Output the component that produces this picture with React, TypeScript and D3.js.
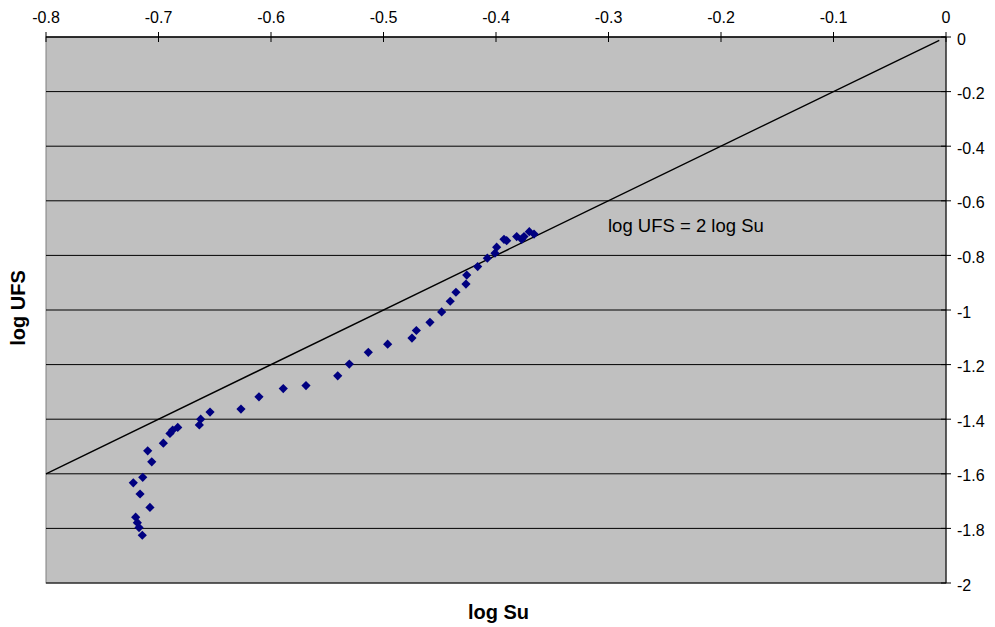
import React from 'react';
import * as d3 from 'd3';

// measured points: log Su vs log UFS
const logSu = [
  -0.7144, -0.7173, -0.7188, -0.7203, -0.7076, -0.7164, -0.7224, -0.714, -0.706, -0.7096,
  -0.6957, -0.6898, -0.6874, -0.6829, -0.6637, -0.6625, -0.6542, -0.6267, -0.6107, -0.5891,
  -0.5689, -0.5407, -0.5304, -0.5135, -0.4963, -0.4747, -0.4708, -0.4587, -0.4483, -0.4407,
  -0.4356, -0.4267, -0.426, -0.4163, -0.4077, -0.4009, -0.3994, -0.3929, -0.3905, -0.3816,
  -0.3772, -0.3751, -0.3704, -0.3662,
];
const logUFS = [
  -1.825, -1.797, -1.779, -1.759, -1.723, -1.674, -1.633, -1.613, -1.556, -1.516,
  -1.488, -1.452, -1.44, -1.43, -1.421, -1.4, -1.374, -1.363, -1.318, -1.288,
  -1.277, -1.241, -1.198, -1.155, -1.125, -1.103, -1.075, -1.045, -1.007, -0.968,
  -0.935, -0.905, -0.872, -0.841, -0.81, -0.792, -0.77, -0.741, -0.746, -0.731,
  -0.741, -0.731, -0.713, -0.722,
];
// reference line log UFS = 2 log Su
const lineSu = [-0.8, -0.006];

const xTicks = [-0.8, -0.7, -0.6, -0.5, -0.4, -0.3, -0.2, -0.1, 0];
const yTicks = [0, -0.2, -0.4, -0.6, -0.8, -1, -1.2, -1.4, -1.6, -1.8, -2];

const W = 995;
const H = 627;
const left = 46, right = 946, top = 37, bottom = 583;

export default function App() {
  const x = d3.scaleLinear().domain([-0.8, 0]).range([left, right]);
  const y = d3.scaleLinear().domain([0, -2]).range([top, bottom]);
  const font = '"Liberation Sans", Arial, sans-serif';

  const line = d3.line<number>().x(d => x(d)).y(d => y(2 * d));
  const diamond = (cx: number, cy: number) => {
    const r = 4.6;
    return `M${cx},${cy - r}L${cx + r},${cy}L${cx},${cy + r}L${cx - r},${cy}Z`;
  };
  const fmt = (t: number) => String(t); // plain hyphen minus like the original

  return (
    <svg width={W} height={H} style={{ position: 'absolute', left: 0, top: 0 }} fontFamily={font}>
      <rect x={left} y={top} width={right - left} height={bottom - top} fill="#c0c0c0" stroke="#808080" />
      {yTicks.map(t => (
        <line key={'g' + t} x1={left} x2={right} y1={y(t)} y2={y(t)} stroke="#000" strokeWidth={1} />
      ))}
      <path d={line(lineSu) || ''} fill="none" stroke="#000" strokeWidth={1.4} />
      {logSu.map((s, i) => (
        <path key={i} d={diamond(x(s), y(logUFS[i]))} fill="#000080" />
      ))}
      {/* top x axis */}
      <line x1={left} x2={right} y1={top} y2={top} stroke="#000" />
      {xTicks.map(t => (
        <g key={'x' + t}>
          <line x1={x(t)} x2={x(t)} y1={top - 5} y2={top + 5} stroke="#000" />
          <text x={x(t)} y={top - 14} textAnchor="middle" fontSize={16}>{fmt(t)}</text>
        </g>
      ))}
      {/* right y axis */}
      <line x1={right} x2={right} y1={top} y2={bottom} stroke="#000" />
      {yTicks.map(t => (
        <g key={'y' + t}>
          <line x1={right - 5} x2={right + 5} y1={y(t)} y2={y(t)} stroke="#000" />
          <text x={right + 11} y={y(t) + 7.5} fontSize={16}>{fmt(t)}</text>
        </g>
      ))}
      <text x={608} y={231.5} fontSize={18.5}>log UFS = 2 log Su</text>
      <text x={498.5} y={619} textAnchor="middle" fontSize={20} fontWeight="bold">log Su</text>
      <text transform={`translate(25,308) rotate(-90)`} textAnchor="middle" fontSize={20} fontWeight="bold">log UFS</text>
    </svg>
  );
}
